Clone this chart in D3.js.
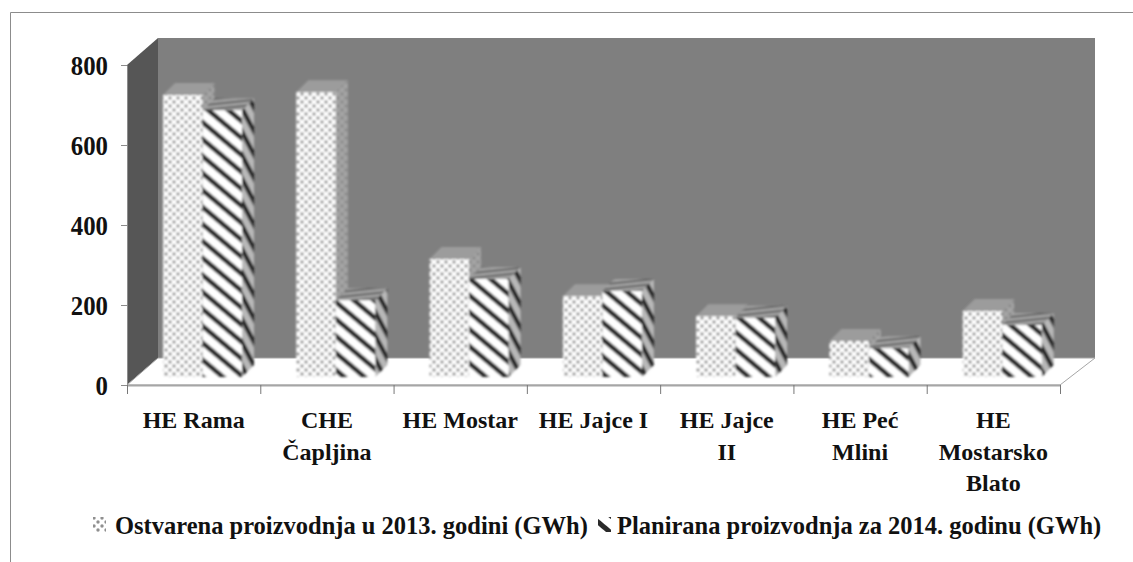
<!DOCTYPE html>
<html lang="en">
<head>
<meta charset="UTF-8">
<title>Proizvodnja</title>
<script src="https://d3js.org/d3.v7.min.js"></script>
<style>
  html, body { margin: 0; padding: 0; background: #fff; }
  svg { display: block; }
  text { font-family: "Liberation Serif", serif; font-weight: bold; fill: #111; }
</style>
</head>
<body>
<svg id="chart" width="1133" height="562"></svg>
<script>
// values (GWh)
var categories = ["HE Rama", "CHE Čapljina", "HE Mostar", "HE Jajce I", "HE Jajce II", "HE Peć Mlini", "HE Mostarsko Blato"];
var labelLines = [["HE Rama"], ["CHE", "Čapljina"], ["HE Mostar"], ["HE Jajce I"], ["HE Jajce", "II"], ["HE Peć", "Mlini"], ["HE", "Mostarsko", "Blato"]];
var seriesNames = ["Ostvarena proizvodnja u 2013. godini (GWh)", "Planirana proizvodnja za 2014. godinu (GWh)"];
var produced2013 = [705, 712, 295, 202, 152, 90, 165];
var planned2014 = [667, 192, 245, 215, 148, 72, 130];
var yTicks = [0, 200, 400, 600, 800];

var svg = d3.select("#chart");

// front plane of the 3d box
var x0 = 127, x1 = 1060, yBottom = 385, yTop = 65;
var depthLeft = 31, depthRight = 35, depthY = -27;

var x = d3.scaleBand().domain(categories).range([x0, x1]);
var xEdges = d3.scaleLinear().domain([0, categories.length]).range([x0, x1]);
var y = d3.scaleLinear().domain([0, 800]).range([yBottom, yTop]);

var defs = svg.append("defs");

function dots(id, bg, fg) {
  var p = defs.append("pattern").attr("id", id).attr("width", 8).attr("height", 8)
    .attr("patternUnits", "userSpaceOnUse");
  p.append("rect").attr("width", 8).attr("height", 8).attr("fill", bg);
  p.append("circle").attr("cx", 2).attr("cy", 2).attr("r", 1.7).attr("fill", fg);
  p.append("circle").attr("cx", 6).attr("cy", 6).attr("r", 1.7).attr("fill", fg);
}
function stripes(id, bg, fg, size, w, angle) {
  var p = defs.append("pattern").attr("id", id).attr("width", size).attr("height", size)
    .attr("patternUnits", "userSpaceOnUse").attr("patternTransform", "rotate(" + angle + ")");
  p.append("rect").attr("width", size).attr("height", size).attr("fill", bg);
  p.append("rect").attr("width", size).attr("height", w).attr("fill", fg);
}
dots("dotFront", "#ffffff", "#8f8f8f");
dots("dotSide", "#a4a4a4", "#8a8a8a");
stripes("hatchFront", "#ffffff", "#2a2a2a", 13, 5, 40);
stripes("hatchSide", "#b8b8b8", "#262626", 11, 4.5, 62);
stripes("hatchTop", "#a0a0a0", "#555555", 5, 1.6, -6);
defs.append("filter").attr("id", "soft").append("feGaussianBlur").attr("stdDeviation", 1);

// outer frame, open on the right
svg.append("path").attr("d", "M10.5,562V12.5H1133").attr("fill", "none").attr("stroke", "#8c8c8c");

// box walls and floor
var poly = function (pts) { return pts.map(function (p) { return p.join(","); }).join(" "); };
svg.append("polygon")
  .attr("points", poly([[x0 + depthLeft, yTop + depthY], [x1 + depthRight, yTop + depthY], [x1 + depthRight, yBottom + depthY], [x0 + depthLeft, yBottom + depthY]]))
  .attr("fill", "#7f7f7f");
svg.append("polygon")
  .attr("points", poly([[x0, yTop], [x0 + depthLeft, yTop + depthY], [x0 + depthLeft, yBottom + depthY], [x0, yBottom]]))
  .attr("fill", "#565656");
svg.append("polygon")
  .attr("points", poly([[x0, yBottom], [x0 + depthLeft, yBottom + depthY], [x1 + depthRight, yBottom + depthY], [x1, yBottom]]))
  .attr("fill", "#ffffff").attr("stroke", "#a6a6a6");

// bars
var barW = 39.5, barOffset = 36, barLift = 8, sideX = 12, sideY = -12;
var bars = svg.append("g").attr("filter", "url(#soft)");

function drawSeries(values, shift, front, side, top) {
  var g = bars.selectAll(null).data(values).enter().append("g");
  function bx(d, i) { return x(categories[i]) + barOffset + shift; }
  function by(d) { return y(d) - barLift; }
  var base = y(0) - barLift;
  g.append("polygon").attr("fill", side).attr("points", function (d, i) {
    var l = bx(d, i) + barW;
    return poly([[l, by(d)], [l + sideX, by(d) + sideY], [l + sideX, base + sideY], [l, base]]);
  });
  g.append("polygon").attr("fill", top).attr("points", function (d, i) {
    var l = bx(d, i);
    return poly([[l, by(d)], [l + sideX, by(d) + sideY], [l + barW + sideX, by(d) + sideY], [l + barW, by(d)]]);
  });
  g.append("rect").attr("fill", front)
    .attr("x", bx).attr("y", by).attr("width", barW)
    .attr("height", function (d) { return base - by(d); });
}
drawSeries(produced2013, 0, "url(#dotFront)", "url(#dotSide)", "#9c9c9c");
drawSeries(planned2014, barW, "url(#hatchFront)", "url(#hatchSide)", "url(#hatchTop)");

// axes
var yAxis = svg.append("g").attr("transform", "translate(" + x0 + ",0)")
  .call(d3.axisLeft(y).tickValues(yTicks).tickSize(6).tickSizeOuter(0));
yAxis.select(".domain").attr("stroke", "#8c8c8c");
yAxis.selectAll(".tick line").attr("stroke", "#8c8c8c");
// the source font is narrower and taller than Liberation at this width
yAxis.selectAll(".tick text").attr("font-size", 28).attr("x", -19).attr("dy", "0.33em")
  .attr("font-family", "Liberation Serif").attr("fill", "#111")
  .attr("lengthAdjust", "spacingAndGlyphs")
  .attr("textLength", function (d) { return String(d).length * 12.4; });

var xTicks = svg.append("g").attr("transform", "translate(0," + yBottom + ")")
  .call(d3.axisBottom(xEdges).ticks(categories.length).tickSize(9).tickSizeOuter(0).tickFormat(""));
xTicks.select(".domain").attr("stroke", "#a6a6a6").attr("stroke-width", 2);
xTicks.selectAll(".tick line").attr("stroke", "#777");

var labels = svg.append("g").selectAll("text").data(labelLines).enter().append("text")
  .attr("text-anchor", "middle").attr("font-size", 24)
  .attr("x", function (d, i) { return x(categories[i]) + x.bandwidth() / 2; })
  .attr("y", 428);
labels.selectAll("tspan").data(function (d) { return d; }).enter().append("tspan")
  .attr("x", function () { return d3.select(this.parentNode).attr("x"); })
  .attr("dy", function (d, i) { return i ? 31.5 : 0; })
  .text(function (d) { return d; });

// legend
var legendX = [115, 617], swatchX = [93, 598];
var legend = svg.append("g").selectAll("g").data(seriesNames).enter().append("g");
legend.append("rect").attr("width", 13).attr("height", 15)
  .attr("x", function (d, i) { return swatchX[i]; }).attr("y", 517)
  .attr("fill", function (d, i) { return i ? "url(#hatchFront)" : "url(#dotFront)"; });
legend.append("text").attr("font-size", 24.5).attr("y", 534)
  .attr("x", function (d, i) { return legendX[i]; })
  .text(function (d) { return d; });
</script>
</body>
</html>
